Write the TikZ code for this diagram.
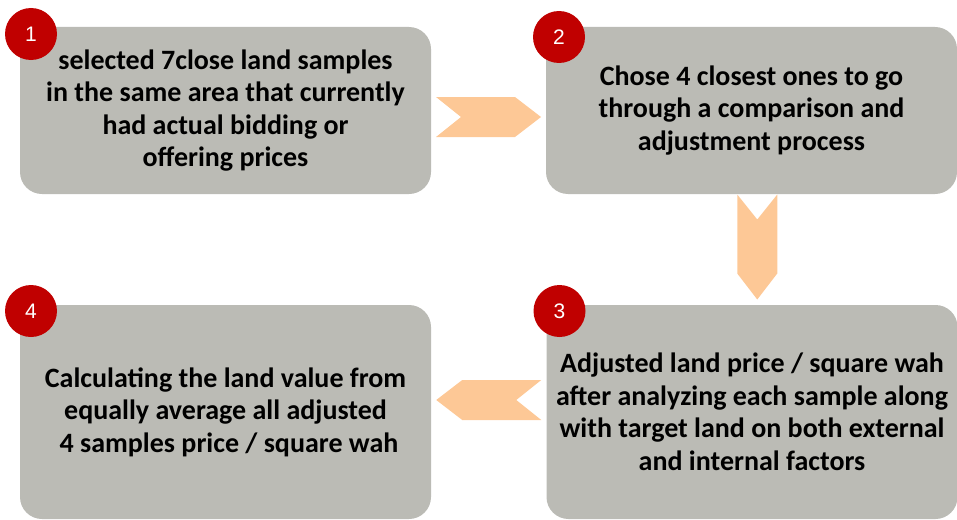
\documentclass[tikz,border=0pt]{standalone}
\usepackage{fontspec}
\setmainfont{Carlito}
\newfontfamily\numfont{Liberation Sans}
\usetikzlibrary{calc}
\definecolor{boxgray}{RGB}{187,187,181}
\definecolor{peach}{RGB}{253,200,150}
\definecolor{badge}{RGB}{192,0,0}
\tikzset{
  stepbox/.style={fill=boxgray, draw=none, rounded corners=22pt, minimum width=411pt,
    align=center, font=\fontsize{28}{32.5}\selectfont\bfseries, inner sep=0pt},
  badgecirc/.style={circle, fill=badge, draw=none, minimum size=52pt, inner sep=0pt,
    text=white, font=\numfont\fontsize{21}{24}\selectfont},
  chev/.pic={\fill[peach] (-52.5,-20) -- (26.5,-20) -- (52.5,0) -- (26.5,20) -- (-52.5,20) -- (-27.5,0) -- cycle;}
}
\begin{document}
\begin{tikzpicture}[x=1pt,y=-1pt]
\useasboundingbox (0,0) rectangle (957,519);
\node[stepbox, minimum height=167pt] (b1) at (225.5,110.5) {selected 7close land samples\\in the same area that currently\\had actual bidding or\\offering prices};
\node[stepbox, minimum height=167pt] (b2) at (751.5,110.5) {Chose 4 closest ones to go\\through a comparison and\\adjustment process};
\node[stepbox, minimum height=214pt] (b3) at (752,412) {Adjusted land price / square wah\\after analyzing each sample along\\with target land on both external\\and internal factors};
\node[stepbox, minimum height=214pt] (b4) at (225.5,412) {Calculating the land value from\\equally average all adjusted\\\hspace{0.25em}4 samples price / square wah};
\node[badgecirc] (n1) at (31,34) {1};
\node[badgecirc] (n2) at (559,37) {2};
\node[badgecirc] (n3) at (559.5,311) {3};
\node[badgecirc] (n4) at (31,311) {4};
\pic at ($(b1.east)!0.5!(b2.west)+(0,6.5)$) {chev};
\pic[rotate=-90] at ($(b2.south)!0.5!(b3.north)+(5.5,-2.5)$) {chev};
\pic[rotate=180] at ($(b3.west)!0.5!(b4.east)+(0,-12)$) {chev};
\end{tikzpicture}
\end{document}
